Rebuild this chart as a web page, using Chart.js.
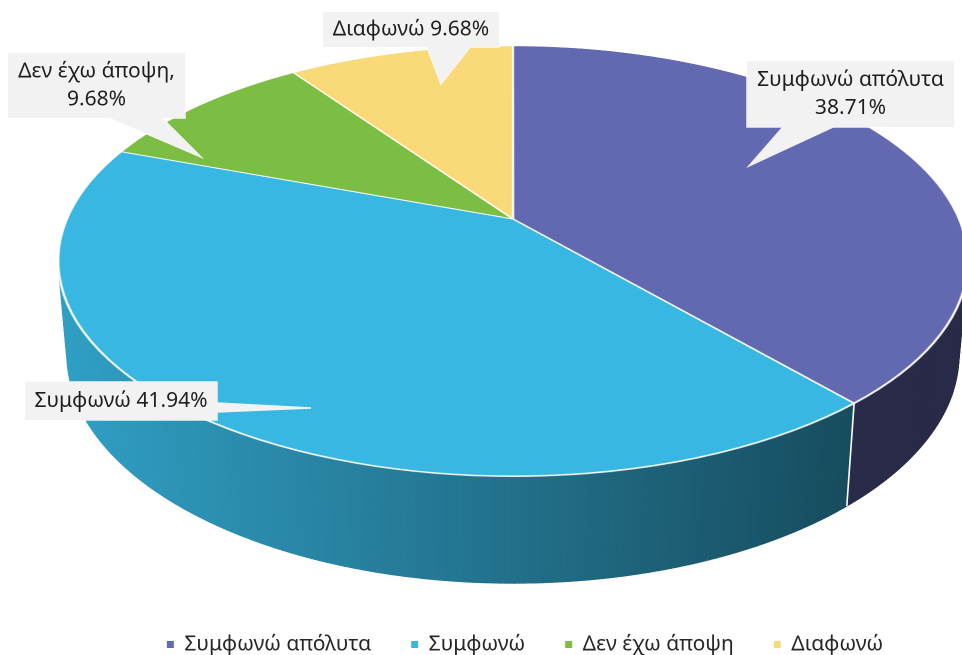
<!DOCTYPE html>
<html>
<head>
<meta charset="utf-8">
<script src="https://cdn.jsdelivr.net/npm/chart.js@4.4.0/dist/chart.umd.min.js"></script>
<style>
  html, body { margin: 0; padding: 0; background: #fff; }
  #wrap { width: 962px; height: 655px; position: relative; }
</style>
</head>
<body>
<div id="wrap"><canvas id="pie"></canvas></div>
<script>
/* ── Data ───────────────────────────────────────────────────────────────── */
const LABELS = ['Συμφωνώ απόλυτα', 'Συμφωνώ', 'Δεν έχω άποψη', 'Διαφωνώ'];
const VALUES = [38.71, 41.94, 9.68, 9.68];
const COLORS = ['#6369B0', '#38B7E2', '#7BBE43', '#FAD978'];

/* ── 3D look: perspective of the tilted disc (screen px) ────────────────── */
// x = cx + e*u / w,  y = (a*v + b + dy*z) / w,  w = 1 + c*v + dw*z
const P = { cx: 513, e: 446, a: 164.2, b: 219, c: -0.1953, dw: 0.0187, dy: 97 };
const STEP = Math.PI / 360;

// callout boxes (label placement only)
const CALLOUTS = [
  { box: [747, 61, 207, 66], tip: [749, 166], base: [[783, 127], [833, 127]], sep: '\n' },
  { box: [25, 382, 192, 38], tip: [311, 408], base: [[217, 403], [217, 412]], sep: ' ' },
  { box: [8, 53, 177, 65],   tip: [201, 157], base: [[110, 118], [162, 118]], sep: ',\n' },
  { box: [323, 12, 176, 35], tip: [441, 84],  base: [[427, 47], [470, 47]],   sep: ' ' },
];

function proj(ang, z) {
  const u = Math.cos(ang), v = Math.sin(ang);
  const w = 1 + P.c * v + P.dw * z;
  return { x: P.cx + P.e * u / w, y: (P.a * v + P.b + P.dy * z) / w };
}

function area(p) {
  let s = 0;
  for (let i = 0; i < p.length; i++) {
    const q = p[i], r = p[(i + 1) % p.length];
    s += q.x * r.y - r.x * q.y;
  }
  return s / 2;
}

function shade(hex, k) {
  const n = parseInt(hex.slice(1), 16);
  const r = Math.round(((n >> 16) & 255) * k);
  const g = Math.round(((n >> 8) & 255) * k);
  const b = Math.round((n & 255) * k);
  return `rgb(${r},${g},${b})`;
}

function isFront(ang) {
  const p = [proj(ang - STEP, 0), proj(ang + STEP, 0), proj(ang + STEP, 1), proj(ang - STEP, 1)];
  return area(p) < 0;
}

/* ── Side wall of the cylinder ──────────────────────────────────────────── */
function drawSides(ctx, arcs) {
  arcs.forEach((arc, i) => {
    const { startAngle, endAngle } = arc.getProps(['startAngle', 'endAngle'], true);
    const n = Math.max(2, Math.ceil((endAngle - startAngle) / STEP));
    for (let k = 0; k < n; k++) {
      const a1 = startAngle + (endAngle - startAngle) * k / n;
      const a2 = startAngle + (endAngle - startAngle) * (k + 1) / n;
      const p = [proj(a1, 0), proj(a2, 0), proj(a2, 1), proj(a1, 1)];
      if (area(p) >= 0) continue;               // faces away
      const xm = (p[2].x + p[3].x) / 2;
      const col = shade(COLORS[i], Math.max(0.41, 0.87 - 0.00058 * (xm - 70)));
      ctx.beginPath();
      ctx.moveTo(p[0].x, p[0].y);
      for (let j = 1; j < 4; j++) ctx.lineTo(p[j].x, p[j].y);
      ctx.closePath();
      ctx.fillStyle = col;
      ctx.strokeStyle = col;
      ctx.lineWidth = 1;
      ctx.fill();
      ctx.stroke();
    }
  });

  // white seams between slices on the wall
  ctx.strokeStyle = '#fff';
  ctx.lineWidth = 1.6;
  arcs.forEach(arc => {
    const a = arc.getProps(['startAngle'], true).startAngle;
    if (!isFront(a)) return;
    const t = proj(a, 0), b = proj(a, 1);
    ctx.beginPath();
    ctx.moveTo(t.x, t.y);
    ctx.lineTo(b.x, b.y);
    ctx.stroke();
  });
}

/* ── Top face: the flat Chart.js pie, re-laid row by row in perspective ── */
function drawTop(ctx, flat, fx, fy, R, dpr) {
  const Rm = R + 3, lim = Rm / R;
  const yTop = (P.b - P.a * lim) / (1 - P.c * lim);
  const yBot = (P.b + P.a * lim) / (1 + P.c * lim);
  ctx.save();
  ctx.setTransform(1, 0, 0, 1, 0, 0);
  ctx.imageSmoothingEnabled = true;
  ctx.imageSmoothingQuality = 'high';
  for (let Y = Math.floor(yTop * dpr); Y <= Math.ceil(yBot * dpr); Y++) {
    const y = (Y + 0.5) / dpr;
    const v = (P.b - y) / (y * P.c - P.a);
    if (Math.abs(v) > lim) continue;
    const half = P.e * lim / (1 + P.c * v);
    const sy = (fy + v * R) * dpr;
    ctx.drawImage(flat, (fx - Rm) * dpr, sy - 0.5, 2 * Rm * dpr, 1,
                  (P.cx - half) * dpr, Y, 2 * half * dpr, 1);
  }
  ctx.restore();
}

/* ── Data callouts ──────────────────────────────────────────────────────── */
function drawCallouts(ctx) {
  const total = VALUES.reduce((s, v) => s + v, 0);
  CALLOUTS.forEach((c, i) => {
    const [x, y, w, h] = c.box;
    ctx.beginPath();
    ctx.rect(x, y, w, h);
    ctx.moveTo(c.base[0][0], c.base[0][1]);
    ctx.lineTo(c.tip[0], c.tip[1]);
    ctx.lineTo(c.base[1][0], c.base[1][1]);
    ctx.closePath();
    ctx.strokeStyle = 'rgba(255,255,255,0.9)';
    ctx.lineWidth = 1.5;
    ctx.stroke();
    ctx.fillStyle = '#F2F2F2';
    ctx.fill();

    const pct = (VALUES[i] / total * 100).toFixed(2) + '%';
    const lines = (LABELS[i] + c.sep + pct).split('\n');
    ctx.fillStyle = '#1f1f1f';
    ctx.font = '21px "Noto Sans", sans-serif';
    ctx.textAlign = 'center';
    ctx.textBaseline = 'middle';
    const lh = 28, y0 = y + h / 2 - (lines.length - 1) * lh / 2;
    lines.forEach((t, k) => ctx.fillText(t, x + w / 2, y0 + k * lh));
  });
}

const pie3d = {
  id: 'pie3d',
  afterDatasetsDraw(chart) {
    const arcs = chart.getDatasetMeta(0).data;
    if (!arcs.length) return;
    const { x: fx, y: fy, outerRadius: R } = arcs[0].getProps(['x', 'y', 'outerRadius'], true);
    const canvas = chart.canvas, ctx = chart.ctx, area = chart.chartArea;
    const dpr = chart.currentDevicePixelRatio;

    const flat = document.createElement('canvas');
    flat.width = canvas.width;
    flat.height = canvas.height;
    flat.getContext('2d').drawImage(canvas, 0, 0);

    // wipe the flat pie only (legend lives below the chart area)
    ctx.clearRect(area.left, area.top, area.right - area.left, area.bottom - area.top);

    drawSides(ctx, arcs);
    drawTop(ctx, flat, fx, fy, R, dpr);
    drawCallouts(ctx);
  }
};

new Chart(document.getElementById('pie'), {
  type: 'pie',
  data: {
    labels: LABELS,
    datasets: [{
      data: VALUES,
      backgroundColor: COLORS,
      borderColor: '#fff',
      borderWidth: 1.4,
    }]
  },
  options: {
    responsive: true,
    maintainAspectRatio: false,
    devicePixelRatio: 2,
    animation: false,
    layout: { padding: { left: 88, bottom: -10 } },
    plugins: {
      tooltip: { enabled: false },
      legend: {
        position: 'bottom',
        labels: {
          boxWidth: 7,
          boxHeight: 7,
          padding: 40,
          color: '#262626',
          font: { family: "'Noto Sans', sans-serif", size: 21 },
          generateLabels: chart => {
            const items = Chart.overrides.doughnut.plugins.legend.labels.generateLabels(chart);
            items.forEach(it => { it.lineWidth = 0; it.strokeStyle = it.fillStyle; });
            return items;
          }
        }
      }
    }
  },
  plugins: [pie3d]
});
</script>
</body>
</html>
